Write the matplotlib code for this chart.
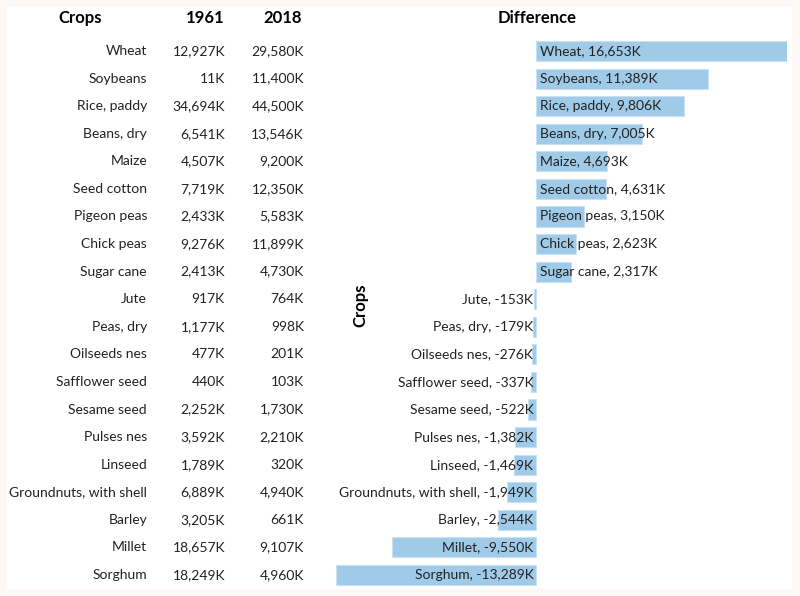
import matplotlib.pyplot as plt
from matplotlib.patches import Rectangle
from matplotlib.transforms import blended_transform_factory

plt.rcParams['font.family'] = ['Lato', 'DejaVu Sans']

# Data
crops = ["Wheat", "Soybeans", "Rice, paddy", "Beans, dry", "Maize", "Seed cotton",
         "Pigeon peas", "Chick peas", "Sugar cane", "Jute", "Peas, dry", "Oilseeds nes",
         "Safflower seed", "Sesame seed", "Pulses nes", "Linseed",
         "Groundnuts, with shell", "Barley", "Millet", "Sorghum"]
v1961 = [12927, 11, 34694, 6541, 4507, 7719, 2433, 9276, 2413, 917, 1177, 477,
         440, 2252, 3592, 1789, 6889, 3205, 18657, 18249]
v2018 = [29580, 11400, 44500, 13546, 9200, 12350, 5583, 11899, 4730, 764, 998, 201,
         103, 1730, 2210, 320, 4940, 661, 9107, 4960]
diff = [b - a for a, b in zip(v1961, v2018)]

W, H = 800, 596
fig = plt.figure(figsize=(8, 5.96), dpi=100)
fig.patch.set_facecolor("#fdf7f6")
fig.patches.append(Rectangle((7 / W, 7 / H), 785 / W, 582 / H, transform=fig.transFigure,
                             facecolor="white", edgecolor="none", zorder=-5))

n = len(crops)
row_px = (575 - 51) / (n - 1)
top_px = 51 - row_px / 2
bot_px = top_px + row_px * n
left_px, right_px = 336, 787
ax = fig.add_axes([left_px / W, 1 - bot_px / H, (right_px - left_px) / W, (bot_px - top_px) / H])
ax.patch.set_alpha(0)

ys = list(range(n))
ax.barh(ys, diff, height=0.73, color="#9fcbe9", edgecolor="#c9e1f3", linewidth=0.8)
ax.set_xlim(min(diff), max(diff))
ax.set_ylim(n - 0.5, -0.5)
ax.axis("off")

for y, c, d in zip(ys, crops, diff):
    lab = f"{c}, {d:,}K"
    if d >= 0:
        ax.annotate(lab, (0, y), xytext=(3, 0), textcoords="offset points",
                    ha="left", va="center", fontsize=10, color="#222222")
    else:
        ax.annotate(lab, (0, y), xytext=(-2, 0), textcoords="offset points",
                    ha="right", va="center", fontsize=10, color="#222222")

# table columns
tr = blended_transform_factory(fig.transFigure, ax.transData)
for y, c, a, b in zip(ys, crops, v1961, v2018):
    ax.text(147 / W, y, c, transform=tr, ha="right", va="center", fontsize=10, color="#222222")
    ax.text(225 / W, y, f"{a:,}K", transform=tr, ha="right", va="center", fontsize=10, color="#222222")
    ax.text(304 / W, y, f"{b:,}K", transform=tr, ha="right", va="center", fontsize=10, color="#222222")

# headers
hy = 1 - 18 / H
fig.text(80 / W, hy, "Crops", ha="center", va="center", fontsize=12, fontweight="bold")
fig.text(205 / W, hy, "1961", ha="center", va="center", fontsize=12, fontweight="bold")
fig.text(283 / W, hy, "2018", ha="center", va="center", fontsize=12, fontweight="bold")
fig.text(537 / W, hy, "Difference", ha="center", va="center", fontsize=12, fontweight="bold")
fig.text(360 / W, 1 - 305 / H, "Crops", ha="center", va="center", fontsize=12,
         fontweight="bold", rotation=90)

fig.savefig("out.png", dpi=100, facecolor=fig.get_facecolor())
